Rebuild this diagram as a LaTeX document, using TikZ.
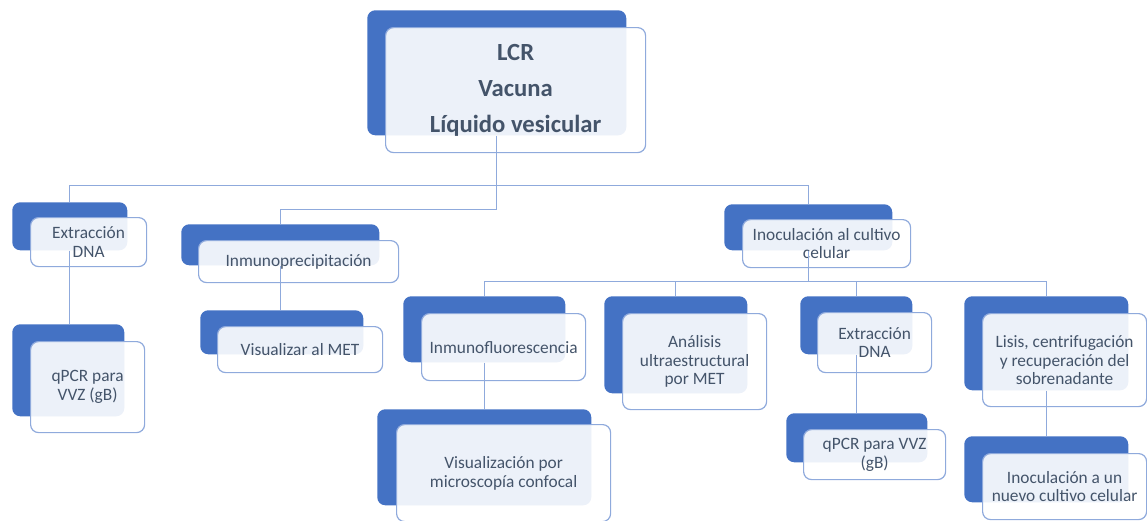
\documentclass[tikz,border=0pt]{standalone}
\usepackage{fontspec}
\setmainfont{Carlito}
\definecolor{azulfondo}{HTML}{4472C4}
\definecolor{azulborde}{HTML}{8FAADC}
\definecolor{textoazul}{HTML}{44546A}
\tikzset{
  fondo/.style={anchor=north west, fill=azulfondo, rounded corners=6pt, inner sep=0pt},
  frente/.style={anchor=north west, draw=azulborde, line width=0.9pt, fill=white, fill opacity=0.9, text opacity=1, rounded corners=6pt, align=center, text=textoazul, font=\fontsize{13}{14}\selectfont, inner sep=2pt},
  tam/.style 2 args={minimum width=#1*0.75pt, minimum height=#2*0.75pt},
  conector/.style={draw=azulborde, line width=1pt},
}
\begin{document}
\begin{tikzpicture}[x=0.75pt,y=0.75pt,yscale=-1,xscale=1]
\useasboundingbox (0,0) rectangle (1147,521);

%Box: LCR
\node[fondo, tam={259}{125}] (lcrB) at (367,10) {};
\node[frente, tam={260}{125}, font=\bfseries\fontsize{18.5}{27}\selectfont] (lcr) at (385,27) {LCR\\Vacuna\\Líquido vesicular};
%Box: Extraccion (izq)
\node[fondo, tam={115}{48}] (extrAB) at (12,202) {};
\node[frente, tam={116}{49}] (extrA) at (30,217) {Extracción\\DNA};
%Box: Inmunoprecipitacion
\node[fondo, tam={198}{41}] (inmpB) at (181,224) {};
\node[frente, tam={200}{42}] (inmp) at (198,240) {Inmunoprecipitación};
%Box: Inoculacion
\node[fondo, tam={168}{46}] (inocB) at (724,204) {};
\node[frente, tam={168}{48}] (inoc) at (742,219) {Inoculación al cultivo\\celular};
%Box: qPCR (izq)
\node[fondo, tam={112}{92}] (qpcrAB) at (12,324) {};
\node[frente, tam={114}{91}] (qpcrA) at (30,341) {qPCR para\\VVZ (gB)};
%Box: Visualizar al MET
\node[fondo, tam={163}{44}] (visB) at (200,310) {};
\node[frente, tam={165}{46}] (vis) at (217,326) {Visualizar al MET};
%Box: Inmunofluorescencia
\node[fondo, tam={162}{66}] (inmfB) at (403,296) {};
\node[frente, tam={164}{67}] (inmf) at (421,313) {Inmunofluorescencia};
%Box: Analisis
\node[fondo, tam={143}{97}] (anaB) at (604,296) {};
\node[frente, tam={144}{96}] (ana) at (622,313) {Análisis\\ultraestructural\\por MET};
%Box: Extraccion (der)
\node[fondo, tam={112}{58}] (extrBB) at (800,296) {};
\node[frente, tam={114}{60}] (extrB) at (817,312) {Extracción\\DNA};
%Box: Lisis
\node[fondo, tam={164}{94}] (lisisB) at (964,296) {};
\node[frente, tam={164}{93}] (lisis) at (982,313) {Lisis, centrifugación\\y recuperación del\\sobrenadante};
%Box: Confocal
\node[fondo, tam={214}{96}] (confB) at (377,409) {};
\node[frente, tam={214}{97}] (conf) at (396,424) {Visualización por\\microscopía confocal};
%Box: qPCR (der)
\node[fondo, tam={141}{49}] (qpcrBB) at (786,413) {};
\node[frente, tam={142}{50}] (qpcrB) at (803,429) {qPCR para VVZ\\(gB)};
%Box: nuevo cultivo
\node[fondo, tam={164}{66}] (nuevoB) at (964,436) {};
\node[frente, tam={164}{66}] (nuevo) at (982,453) {Inoculación a un\\nuevo cultivo celular};

%Connectors
\path (lcrB.south) ++(0,50) coordinate (j1) ++(0,24) coordinate (j2);
\draw[conector] (lcrB.south) -- (j1) -- (j2);
\draw[conector] (extrAB.north) |- (j1) -| (inocB.north);
\draw[conector] (j2) -| (inmpB.north);
\draw[conector] (extrAB.south) -- (extrAB.south |- qpcrAB.north);
\draw[conector] (inmpB.south) -- (inmpB.south |- visB.north);
\path (inocB.south) ++(0,31) coordinate (j3);
\draw[conector] (inocB.south) -- (j3);
\draw[conector] (inmfB.north) |- (j3) -| (lisisB.north);
\draw[conector] (anaB.north) -- (anaB.north |- j3);
\draw[conector] (extrBB.north) -- (extrBB.north |- j3);
\draw[conector] (inmfB.south) -- (inmfB.south |- confB.north);
\draw[conector] (extrBB.south) -- (extrBB.south |- qpcrBB.north);
\draw[conector] (lisisB.south) -- (lisisB.south |- nuevoB.north);

\end{tikzpicture}
\end{document}
